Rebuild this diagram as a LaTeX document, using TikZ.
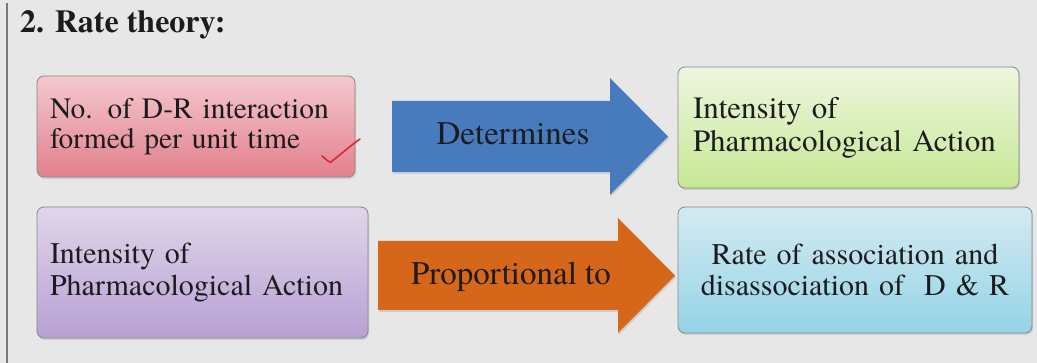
\documentclass[tikz,border=0pt]{standalone}
\usepackage{fontspec}
\setmainfont{texgyretermes}[Extension=.otf, UprightFont=*-regular, BoldFont=*-bold, ItalicFont=*-italic, BoldItalicFont=*-bolditalic]
\usetikzlibrary{shadows}
\definecolor{slidebg}{RGB}{231,231,231}
\definecolor{slideedge}{RGB}{120,120,120}
\definecolor{boxline}{RGB}{135,135,135}
\definecolor{textdark}{RGB}{28,28,30}
\definecolor{pinktop}{RGB}{244,200,206}
\definecolor{pinkbot}{RGB}{226,128,142}
\definecolor{greentop}{RGB}{238,246,224}
\definecolor{greenbot}{RGB}{198,232,148}
\definecolor{purpletop}{RGB}{224,214,234}
\definecolor{purplebot}{RGB}{184,160,212}
\definecolor{cyantop}{RGB}{212,234,242}
\definecolor{cyanbot}{RGB}{148,212,230}
\definecolor{arrowblue}{RGB}{72,122,190}
\definecolor{arroworange}{RGB}{214,102,26}
\definecolor{tickred}{RGB}{222,34,56}

\begin{document}
\begin{tikzpicture}[x=1pt,y=-1pt]
  \tikzstyle{factor}=[rectangle, draw=boxline, rounded corners=7pt, line width=0.8pt, inner sep=0pt, text=textdark, align=left, drop shadow={opacity=0.25, shadow xshift=1pt, shadow yshift=-2pt}, font=\fontsize{30}{32}\selectfont]
  \tikzstyle{verb}=[text=textdark, inner sep=0pt, anchor=base, font=\fontsize{33}{36}\selectfont]
  \tikzstyle{blockarrow}=[drop shadow={opacity=0.25, shadow xshift=1pt, shadow yshift=-2pt}]

  % Slide background
  \fill[slidebg] (0,0) rectangle (1037,363);
  \useasboundingbox (0,0) rectangle (1037,363);
  \draw[slideedge, line width=2pt] (7,3) -- (7,363);
  \node[font=\fontsize{32}{36}\selectfont\bfseries, text=textdark, inner sep=0pt, anchor=base west] (title) at (20,33) {2. Rate theory:};

  % Row 1 (D-R interaction determines intensity)
  \node[factor, minimum width=318pt, minimum height=101pt, text width=292pt, top color=pinktop, bottom color=pinkbot, font=\fontsize{29.5}{30}\selectfont] (count) at (196,126.5) {No. of D-R interaction\\formed per unit time};
  \draw[tickred, line width=1.6pt, line cap=round] (322,156) .. controls (326,159) and (329,163) .. (331,162) .. controls (340,155) and (350,146) .. (360,139);
  \fill[arrowblue, blockarrow] (392,101) -- (610,101) -- (610,78) -- (668,136.5) -- (610,195) -- (610,172) -- (392,172) -- cycle;
  \node[verb] (det) at (513,145) {Determines};
  \node[factor, minimum width=341pt, minimum height=121pt, text width=311pt, top color=greentop, bottom color=greenbot, font=\fontsize{31}{33}\selectfont] (act1) at (848.5,127.5) {Intensity of\\Pharmacological Action};

  % Row 2 (intensity proportional to rate)
  \node[factor, minimum width=331pt, minimum height=131pt, text width=305pt, top color=purpletop, bottom color=purplebot] (act2) at (202.5,272.5) {Intensity of\\Pharmacological Action};
  \fill[arroworange, blockarrow] (378,241) -- (618,241) -- (618,218) -- (675,275.5) -- (618,333) -- (618,310) -- (378,310) -- cycle;
  \node[verb] (prop) at (511,285) {Proportional to};
  \node[factor, minimum width=354pt, minimum height=126pt, text width=328pt, align=center, top color=cyantop, bottom color=cyanbot, font=\fontsize{30}{31}\selectfont] (rate) at (855,270) {Rate of association and\\disassociation of~ D \& R};
\end{tikzpicture}
\end{document}
